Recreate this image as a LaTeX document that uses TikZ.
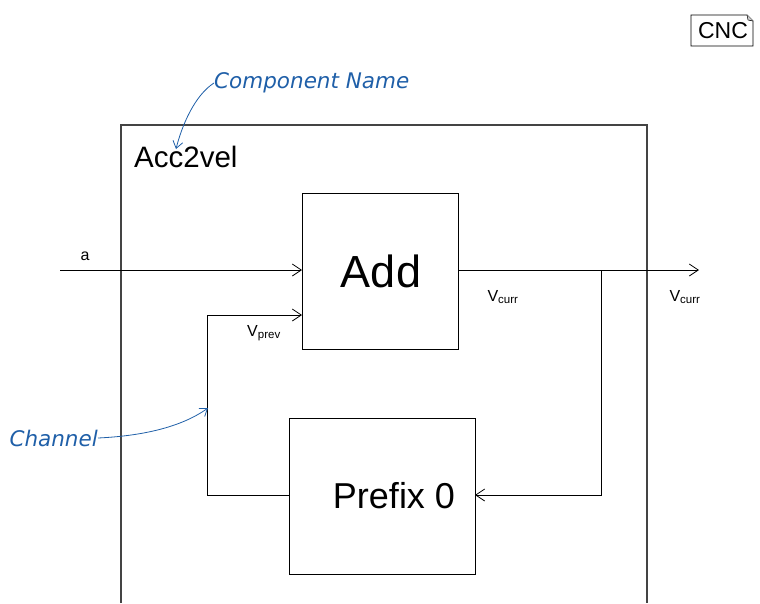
\documentclass[tikz,border=0pt]{standalone}
\usepackage{fontspec}
\setmainfont{Liberation Sans}
\newfontfamily\notefont{DejaVu Sans}
\usetikzlibrary{arrows.meta}
\definecolor{noteblue}{HTML}{1F5FA8}
\definecolor{framegray}{HTML}{444444}
\tikzset{
  blockbox/.style={draw=black, line width=1pt, fill=white, inner sep=0pt},
  wire/.style={draw=black, line width=0.8pt},
  wirearrow/.style={wire, -{Straight Barb[length=9pt,width=12pt,line width=0.8pt]}},
  note/.style={text=noteblue, font=\notefont\itshape\fontsize{21.5}{24}\selectfont, inner sep=0pt},
  notearrow/.style={draw=noteblue, line width=0.8pt, -{Straight Barb[length=7pt,width=10pt,line width=0.8pt]}},
  sig/.style={inner sep=0pt, font=\fontsize{16}{18}\selectfont}
}
\newcommand{\sigsub}[2]{#1\textsubscript{\fontsize{11.5}{12}\selectfont #2}}
\begin{document}
\begin{tikzpicture}[x=1pt, y=-1pt]
  \useasboundingbox (0,0) rectangle (760,603);

  % component frame, open at the bottom
  \coordinate (fbl) at (121,603);
  \coordinate (ftl) at (121,125);
  \coordinate (ftr) at (647,125);
  \coordinate (fbr) at (647,603);
  \draw[framegray, line width=1.2pt] (fbl) -- (ftl) -- (ftr) -- (fbr);
  \node[anchor=west, inner sep=0pt, font=\fontsize{29.5}{32}\selectfont] (cname) at (134,157) {Acc2vel};

  % blocks
  \node[blockbox, minimum width=156pt, minimum height=156pt, anchor=north west] (add) at (302,193) {};
  \node[font=\fontsize{45}{48}\selectfont] (addtxt) at (381,271) {Add};
  \node[blockbox, minimum width=186pt, minimum height=156pt, anchor=north west] (prefix) at (289,418) {};
  \node[font=\fontsize{36}{40}\selectfont] (prefixtxt) at (394,496) {Prefix 0};

  % input a
  \coordinate (ain) at (60,270);
  \coordinate (addin1) at (302,270);
  \draw[wirearrow] (ain) -- (addin1);
  \node[sig] (alab) at (85,256) {a};

  % output v_curr
  \coordinate (addout) at (458,270);
  \coordinate (split) at (601,270);
  \coordinate (vout) at (699,270);
  \draw[wirearrow] (addout) -- (vout);
  \node[sig] (vcurr1) at (503,297) {\sigsub{V}{curr}};
  \node[sig] (vcurr2) at (685,297) {\sigsub{V}{curr}};

  % feedback into prefix
  \coordinate (fbturn) at (601,495);
  \coordinate (prefin) at (475,495);
  \draw[wirearrow] (split) -- (fbturn) -- (prefin);

  % prefix output back to add
  \coordinate (prefout) at (289,495);
  \coordinate (chbot) at (207,495);
  \coordinate (chtop) at (207,315);
  \coordinate (addin2) at (302,315);
  \draw[wirearrow] (prefout) -- (chbot) -- (chtop) -- (addin2);
  \node[sig] (vprev) at (264,333) {\sigsub{V}{prev}};

  % annotations
  \node[note, anchor=west] (cnote) at (214,83) {Component Name};
  \coordinate (cnotetip) at (176,149);
  \draw[notearrow] (cnote.west) .. controls (195,95) and (182,125) .. (cnotetip);
  \node[note, anchor=east] (chnote) at (98,438) {Channel};
  \coordinate (chtip) at (208,408);
  \draw[notearrow] (chnote.east) .. controls (140,436) and (180,428) .. (chtip);

  % CNC tag with folded corner
  \coordinate (t1) at (691,15);
  \coordinate (t2) at (747,15);
  \coordinate (t3) at (753,21);
  \coordinate (t4) at (753,46);
  \coordinate (t5) at (691,46);
  \draw[black, line width=0.8pt] (t1) -- (t2) -- (t3) -- (t4) -- (t5) -- cycle;
  \draw[black, line width=0.5pt, fill=gray!40] (t2) -- (748,20) -- (t3);
  \node[inner sep=0pt, font=\fontsize{23}{26}\selectfont] (cnc) at (723,31) {CNC};
\end{tikzpicture}
\end{document}
